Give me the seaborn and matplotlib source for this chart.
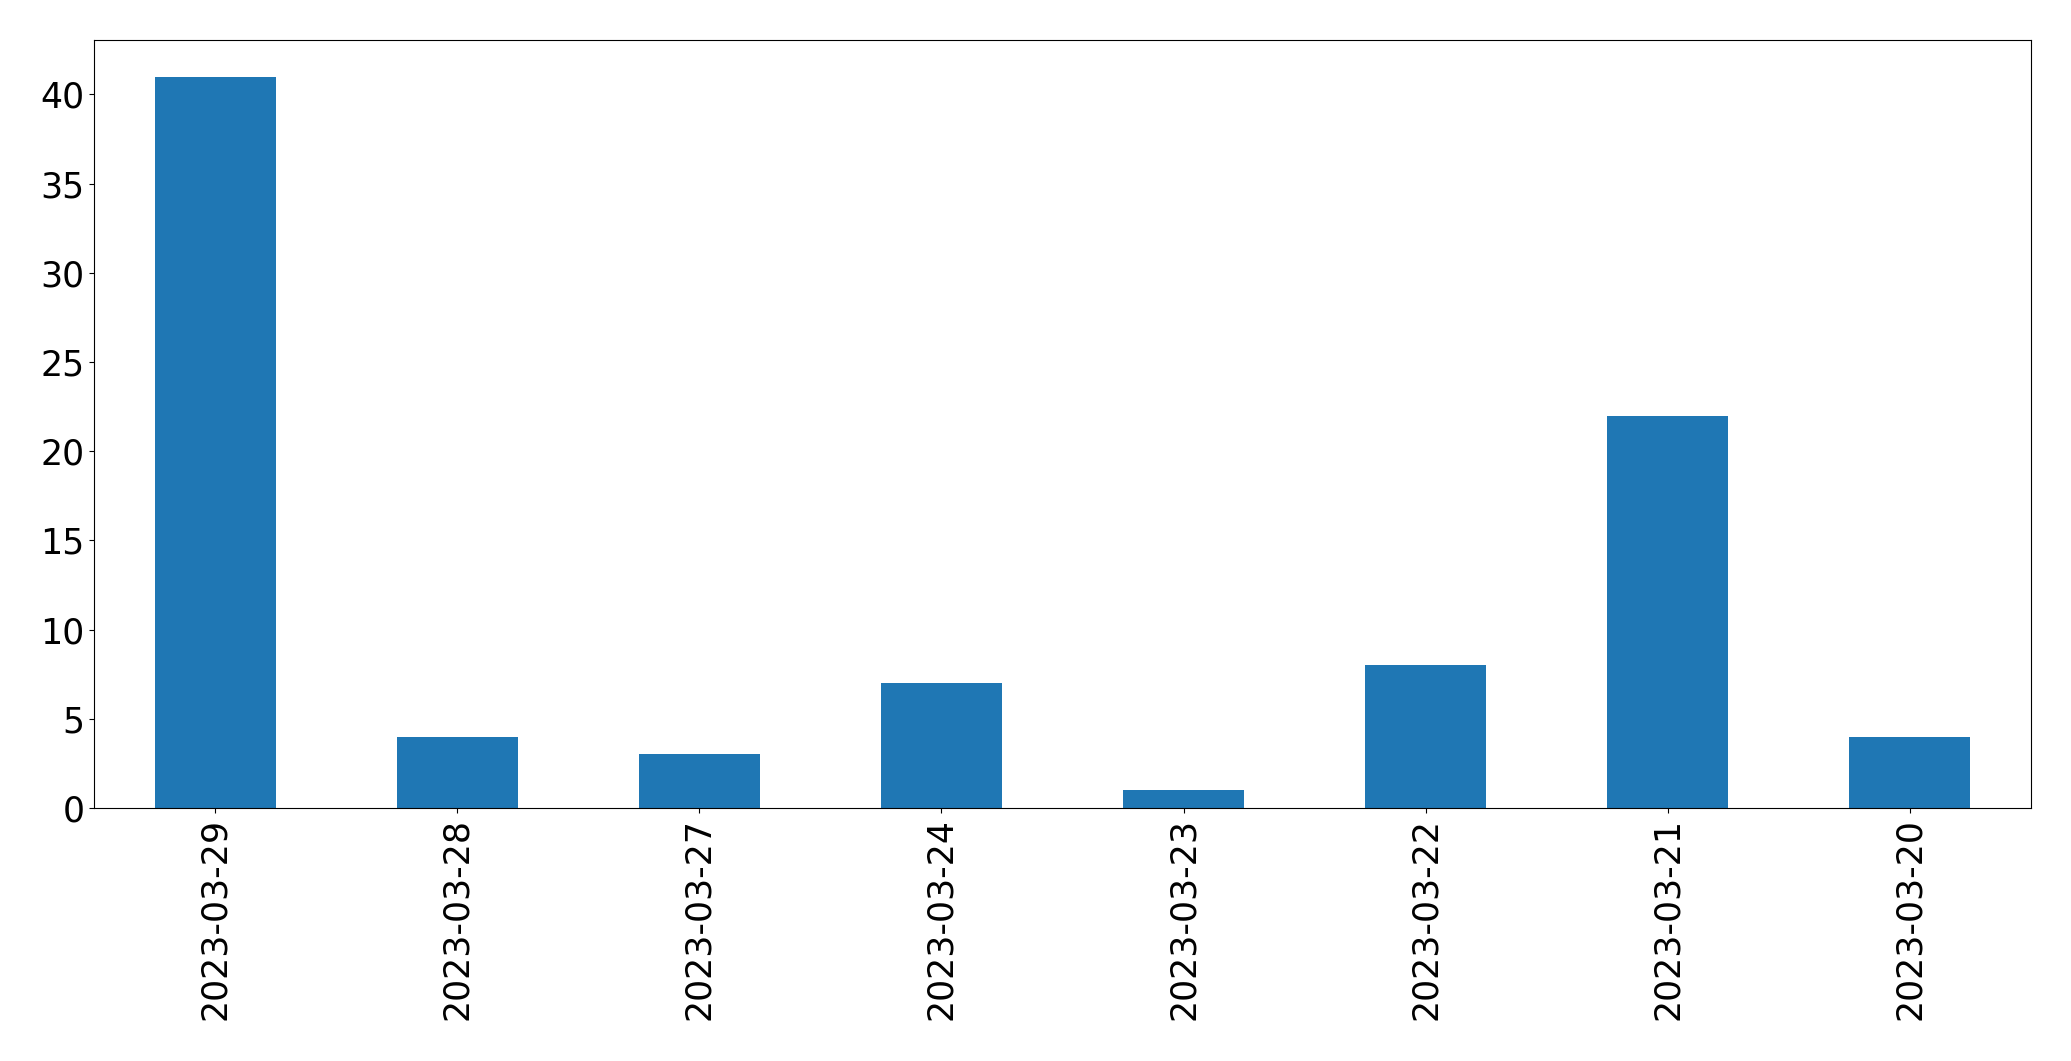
import matplotlib
matplotlib.use("Agg")
import matplotlib.pyplot as plt
import seaborn as sns
import pandas as pd

dates = ["2023-03-29", "2023-03-28", "2023-03-27", "2023-03-24",
         "2023-03-23", "2023-03-22", "2023-03-21", "2023-03-20"]
counts = [41, 4, 3, 7, 1, 8, 22, 4]

df = pd.DataFrame({"date": dates, "count": counts})

fig = plt.figure(figsize=(20.71, 10.61), dpi=100)
ax = fig.add_axes([94/2071, 1 - 808/1061, (2031-94)/2071, (808-40)/1061])
sns.barplot(data=df, x="date", y="count", order=dates, color="#1f77b4",
            saturation=1, width=0.5, ax=ax)
ax.set_xlim(-0.5, 7.5)
ax.set_ylim(0, 41 * 1.05)
ax.set_xlabel("")
ax.set_ylabel("")
ax.tick_params(axis="both", labelsize=25)
plt.setp(ax.get_xticklabels(), rotation=90)
fig.savefig("out.png", dpi=100)
